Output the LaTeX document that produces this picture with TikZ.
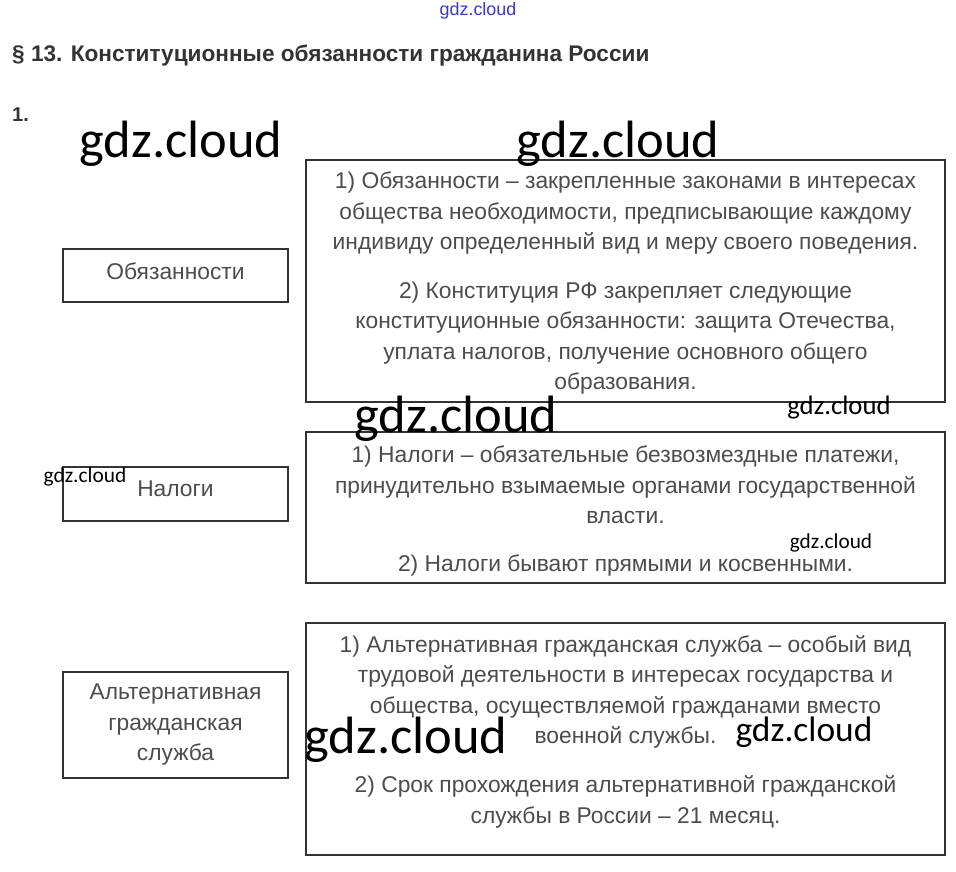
\documentclass[tikz,border=0pt]{standalone}
\usepackage{fontspec}
\setmainfont{Liberation Sans}
\newfontfamily\wmfont{Carlito}
\definecolor{txt}{HTML}{4C4C4C}
\definecolor{frame}{HTML}{333333}
\definecolor{wmblue}{HTML}{3A3AD0}
\tikzset{
  box/.style={draw=frame, line width=1.8pt, minimum width=#1, inner sep=0pt},
  body/.style={text=txt, align=center, inner sep=0pt, font=\fontsize{22.8}{30.5}\selectfont},
  wm/.style={text=black, inner sep=0pt, font=\wmfont\fontsize{#1}{#1}\selectfont},
}
\begin{document}
\begin{tikzpicture}[x=1pt,y=-1pt]
\useasboundingbox (0,0) rectangle (956,871);
% title
\node[anchor=west, text=black!80, inner sep=0pt, font=\bfseries\fontsize{22.6}{26}\selectfont] (title) at (12,56) {§ 13. Конституционные обязанности гражданина России};
\node[anchor=west, text=black!80, inner sep=0pt, font=\bfseries\fontsize{20}{22}\selectfont] (num) at (12,115) {1.};
% left boxes
\node[box=225pt, minimum height=53pt] (l1) at (175.5,275.5) {};
\node[box=225pt, minimum height=54pt] (l2) at (175.5,494) {};
\node[box=225pt, minimum height=106pt] (l3) at (175.5,725) {};
\node[body] (l1t) at (175.5,271) {Обязанности};
\node[body] (l2t) at (175.5,489) {Налоги};
\node[body] (l3t) at (175.5,725) {Альтернативная\\гражданская\\служба};
% right boxes
\node[box=639pt, minimum height=242pt] (r1) at (625.5,281) {};
\node[box=639pt, minimum height=151pt] (r2) at (625.5,507.5) {};
\node[box=639pt, minimum height=232pt] (r3) at (625.5,739) {};
\node[body] (r1a) at (625.5,213) {1) Обязанности – закрепленные законами в интересах\\общества необходимости, предписывающие каждому\\индивиду определенный вид и меру своего поведения.};
\node[body] (r1b) at (625.5,338) {2) Конституция РФ закрепляет следующие\\конституционные обязанности: защита Отечества,\\уплата налогов, получение основного общего\\образования.};
\node[body] (r2a) at (625.5,485) {1) Налоги – обязательные безвозмездные платежи,\\принудительно взымаемые органами государственной\\власти.};
\node[body] (r2b) at (625.5,565) {2) Налоги бывают прямыми и косвенными.};
\node[body] (r3a) at (625.5,692) {1) Альтернативная гражданская служба – особый вид\\трудовой деятельности в интересах государства и\\общества, осуществляемой гражданами вместо\\военной службы.};
\node[body] (r3b) at (625.5,802) {2) Срок прохождения альтернативной гражданской\\службы в России – 21 месяц.};
% watermarks
\node[text=wmblue, inner sep=0pt, font=\fontsize{17.9}{18}\selectfont] (w0) at (478,11) {gdz.cloud};
\node[wm=52.5] (w1) at (181,144) {gdz.cloud};
\node[wm=52.5] (w2) at (618,144) {gdz.cloud};
\node[wm=52.5] (w3) at (456,419) {gdz.cloud};
\node[wm=52.5] (w4) at (406,740) {gdz.cloud};
\node[wm=26.7] (w5) at (839,408) {gdz.cloud};
\node[wm=21.4] (w6) at (85,477) {gdz.cloud};
\node[wm=21.3] (w7) at (831,543) {gdz.cloud};
\node[wm=35.4] (w8) at (804,732) {gdz.cloud};
\end{tikzpicture}
\end{document}
